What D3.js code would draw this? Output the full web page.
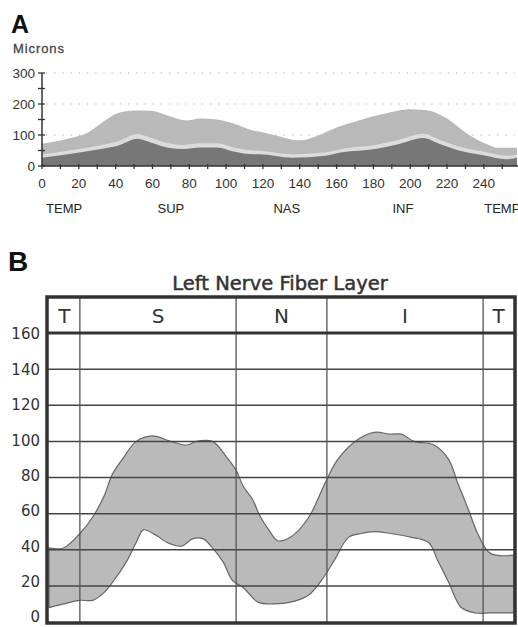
<!DOCTYPE html>
<html><head><meta charset="utf-8">
<script src="https://cdn.jsdelivr.net/npm/d3@7"></script>
<style>
html,body{margin:0;padding:0;background:#fff;}
svg{display:block;}
</style></head>
<body>
<svg id="c" width="518" height="627"></svg>
<script>
// ---------- Panel A data ----------
const aUpperPos  = [0,14,25,32,41,50,59,68,79,86,95,104,115,118,127,136,141,150,160,172,187,199,209,220,230,241,248,258];
const aUpperVals = [72,88,108,137,170,179,178,163,147,153,150,137,114,111,98,85,83,98,124,147,170,183,180,153,108,72,59,59];
const aLowerPos  = [0,14,32,41,52,59,68,77,86,95,104,115,118,136,154,163,181,194,207,216,227,241,252,258];
const aDarkVals  = [27,38,55,65,88,76,60,55,60,60,47,38,38,27,33,44,55,71,90,71,49,33,22,27];
const aPaleVals  = [37,49,67,79,103,91,74,68,73,73,60,50,49,38,44,56,68,85,104,85,62,45,33,37];
const aXTicks = [0,20,40,60,80,100,120,140,160,180,200,220,240];
const aYTicks = [0,100,200,300];
const aSectorLabels = ["TEMP","SUP","NAS","INF","TEMP"];
const aSectorPos    = [12,70,133,196,250];

// ---------- Panel B data ----------
const bUpperPos  = [0,8,17,24,30,35,41,48,57,67,76,81,90,98,103,107,112,116,121,126,133,143,152,159,170,179,188,194,201,212,220,225,231,236,243,256];
const bUpperVals = [41,41,49,58,69,82,91,100,103,100,98,100,100,91,84,75,68,59,51,45,47,58,77,90,101,105,104,104,100,98,90,77,62,49,38,37];
const bLowerPos  = [0,8,17,24,30,35,43,48,52,59,65,73,79,85,90,96,101,107,115,124,133,143,150,157,165,172,179,188,199,209,214,220,227,235,243,256];
const bLowerVals = [8,10,12,12,16,22,34,44,51,48,44,42,46,46,41,33,23,19,11,10,11,15,23,34,47,49,50,49,47,44,34,22,8,5,5,5];
const bYTicks = [0,20,40,60,80,100,120,140,160];
const bSectors = ["T","S","N","I","T"];
const bSectorBounds = [0,17,103,153,239,256];
const bTitle = "Left Nerve Fiber Layer";

const svg = d3.select("#c");

// ================= Panel A =================
const ax = d3.scaleLinear().domain([0,258]).range([42,517]);
const ay = d3.scaleLinear().domain([0,300]).range([166,73]);

svg.append("text").attr("x",11).attr("y",33)
  .style("font","bold 25px 'Liberation Sans',Arial,sans-serif").attr("fill","#111").text("A");
svg.append("text").attr("x",13).attr("y",53)
  .style("font","13px 'Liberation Sans',Arial,sans-serif").style("letter-spacing","0.9px")
  .attr("fill","#444").attr("stroke","#444").attr("stroke-width",0.3).text("Microns");

// dotted grid
svg.append("g").selectAll("line").data(aYTicks.filter(d=>d>0)).join("line")
  .attr("x1",ax(0)+4).attr("x2",518).attr("y1",d=>ay(d)).attr("y2",d=>ay(d))
  .attr("stroke","#aaa").attr("stroke-width",1.2).attr("stroke-dasharray","1.2,7");

const upperPts = aUpperPos.map((p,i)=>[p,aUpperVals[i]]);
const palePts  = aLowerPos.map((p,i)=>[p,aPaleVals[i]]);
const darkPts  = aLowerPos.map((p,i)=>[p,aDarkVals[i]]);
const areaA = d3.area().x(d=>ax(d[0])).y0(ay(0)).y1(d=>ay(d[1])).curve(d3.curveMonotoneX);
svg.append("path").attr("d",areaA(upperPts)).attr("fill","#b9b9b9");
svg.append("path").attr("d",areaA(palePts)).attr("fill","#dcdcdc");
svg.append("path").attr("d",areaA(darkPts)).attr("fill","#777777");

// y axis
const gAy = svg.append("g").attr("transform",`translate(${ax(0)},0)`);
gAy.append("line").attr("y1",ay(300)).attr("y2",ay(0)).attr("stroke","#333").attr("stroke-width",1.5);
gAy.selectAll(".mt").data(d3.range(0,301,50)).join("line")
  .attr("x1",-4).attr("x2",3).attr("y1",d=>ay(d)).attr("y2",d=>ay(d)).attr("stroke","#333").attr("stroke-width",1.3);
gAy.selectAll("text").data(aYTicks).join("text")
  .attr("x",-7).attr("y",d=>ay(d)).attr("dy","0.36em").attr("text-anchor","end")
  .style("font","13.5px 'Liberation Sans',Arial,sans-serif").attr("fill","#333").text(d=>d);

// x axis
const gAx = svg.append("g").attr("transform",`translate(0,${ay(0)})`);
gAx.append("line").attr("x1",ax(0)).attr("x2",518).attr("stroke","#333").attr("stroke-width",1.5);
gAx.selectAll("line.t").data(d3.range(0,258,10)).join("line").attr("class","t")
  .attr("x1",d=>ax(d)).attr("x2",d=>ax(d)).attr("y1",-2).attr("y2",3).attr("stroke","#333").attr("stroke-width",1.3);
gAx.selectAll("text").data(aXTicks).join("text")
  .attr("x",d=>ax(d)).attr("y",22).attr("text-anchor","middle")
  .style("font","13.5px 'Liberation Sans',Arial,sans-serif").attr("fill","#333").text(d=>d);
svg.append("g").selectAll("text").data(aSectorLabels).join("text")
  .attr("x",(d,i)=>ax(aSectorPos[i])).attr("y",213).attr("text-anchor","middle")
  .style("font","13px 'Liberation Sans',Arial,sans-serif").attr("fill","#222").text(d=>d);

// ================= Panel B =================
const bx = d3.scaleLinear().domain([0,256]).range([49,514]);
const by = d3.scaleLinear().domain([0,160]).range([622,333]);
const frame = {l:47, t:297, r:515, b:623};

svg.append("text").attr("x",8).attr("y",271)
  .style("font","bold 28px 'Liberation Sans',Arial,sans-serif").attr("fill","#111").text("B");
svg.append("text").attr("x",280).attr("y",290).attr("text-anchor","middle")
  .style("font","19.5px 'DejaVu Sans',Verdana,sans-serif")
  .attr("fill","#333").attr("stroke","#333").attr("stroke-width",0.5).text(bTitle);

// band
const upB = bUpperPos.map((p,i)=>[p,bUpperVals[i]]);
const loB = bLowerPos.map((p,i)=>[p,bLowerVals[i]]).reverse();
const lineB = d3.line().x(d=>bx(d[0])).y(d=>by(d[1])).curve(d3.curveCatmullRom.alpha(0.5));
const upPath = lineB(upB);
const loPath = lineB(loB).replace(/^M/,"L");
svg.append("path").attr("d",upPath+loPath+"Z").attr("fill","#bababa").attr("stroke","#666").attr("stroke-width",1.2);

// horizontal grid
svg.append("g").selectAll("line").data(bYTicks.filter(d=>d>0&&d<160)).join("line")
  .attr("x1",frame.l).attr("x2",frame.r).attr("y1",d=>by(d)).attr("y2",d=>by(d))
  .attr("stroke","#444").attr("stroke-width",1.5);
// vertical sector dividers
svg.append("g").selectAll("line").data(bSectorBounds.slice(1,-1)).join("line")
  .attr("x1",d=>bx(d)).attr("x2",d=>bx(d)).attr("y1",frame.t).attr("y2",frame.b)
  .attr("stroke","#555").attr("stroke-width",1.3);
// header separator
svg.append("line").attr("x1",frame.l).attr("x2",frame.r).attr("y1",by(160)).attr("y2",by(160))
  .attr("stroke","#333").attr("stroke-width",3);
// frame
svg.append("rect").attr("x",frame.l).attr("y",frame.t).attr("width",frame.r-frame.l).attr("height",frame.b-frame.t)
  .attr("fill","none").attr("stroke","#333").attr("stroke-width",3.5);

// sector letters
svg.append("g").selectAll("text").data(bSectors).join("text")
  .attr("x",(d,i)=>(bx(bSectorBounds[i])+bx(bSectorBounds[i+1]))/2).attr("y",323).attr("text-anchor","middle")
  .style("font","20px 'DejaVu Sans',Verdana,sans-serif").attr("fill","#333").text(d=>d);

// y labels
svg.append("g").selectAll("text").data(bYTicks).join("text")
  .attr("x",40).attr("y",d=>by(d)+1-(160-d)/160*6).attr("dy","0.36em").attr("text-anchor","end")
  .style("font","15px 'DejaVu Sans',Verdana,sans-serif").attr("fill","#333").text(d=>d);
</script>
</body></html>
